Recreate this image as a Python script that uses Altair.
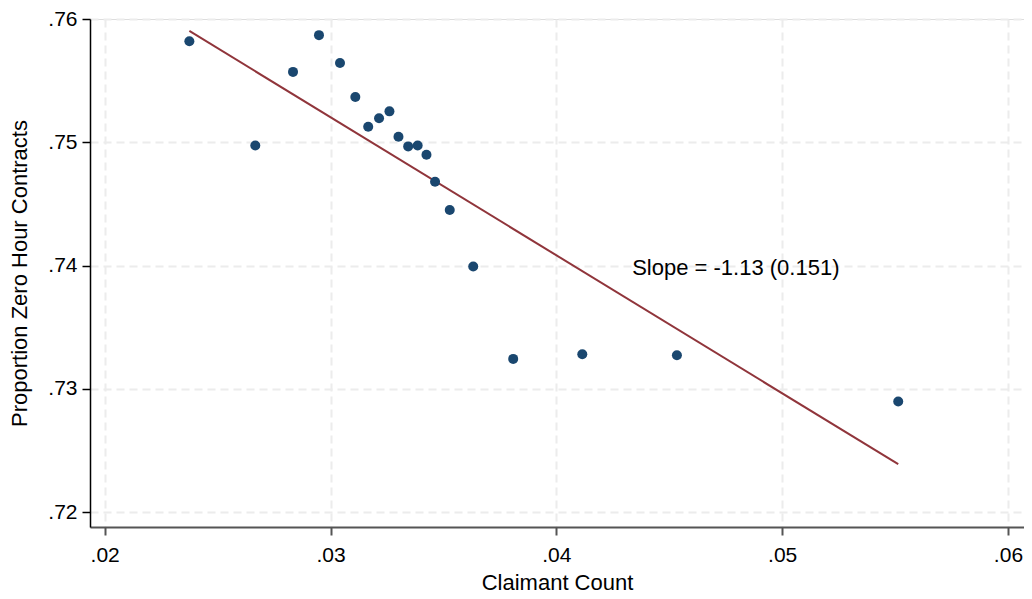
import altair as alt
import pandas as pd

# Scatter data (Claimant Count vs Proportion Zero Hour Contracts)
claimant = [0.02375, 0.02667, 0.02834, 0.02949, 0.03042, 0.03110, 0.03167, 0.03215,
            0.03261, 0.03301, 0.03344, 0.03386, 0.03425, 0.03463, 0.03528, 0.03632,
            0.03809, 0.04115, 0.04534, 0.05514]
zero_hour = [0.7582, 0.74975, 0.75571, 0.75869, 0.75643, 0.75367, 0.75126, 0.75195,
             0.75251, 0.75045, 0.74967, 0.74975, 0.74900, 0.74680, 0.74452, 0.73993,
             0.73244, 0.73282, 0.73274, 0.72898]

# Fitted line endpoints
fit_x = [0.02375, 0.05514]
fit_y = [0.75903, 0.72390]

# Annotation
label_text = ["Slope = -1.13 (0.151)"]
label_x = [0.04336]
label_y = [0.73985]

x_ticks = [0.02, 0.03, 0.04, 0.05, 0.06]
y_ticks = [0.72, 0.73, 0.74, 0.75, 0.76]

FONT = "Liberation Sans"

pts = pd.DataFrame({"x": claimant, "y": zero_hour})
fit = pd.DataFrame({"x": fit_x, "y": fit_y})
lab = pd.DataFrame({"x": label_x, "y": label_y, "t": label_text})

xscale = alt.Scale(domain=[0.01935, 0.06071], nice=False, zero=False)
yscale = alt.Scale(domain=[0.71881, 0.76], nice=False, zero=False)

xaxis = alt.Axis(
    values=x_ticks, labelExpr="replace(format(datum.value, '.2f'), /^0/, '')",
    title="Claimant Count", titleFontSize=22, titleFont=FONT, titleFontWeight="normal",
    titleColor="black", titlePadding=7,
    labelFontSize=21, labelFont=FONT, labelColor="black", labelPadding=9,
    labelFlush=False, labelOverlap=False,
    tickSize=8, tickColor="#555555", tickWidth=2,
    domainColor="#555555", domainWidth=2,
    grid=True, gridColor="#ececec", gridDash=[8, 5], gridWidth=2,
)
yaxis = alt.Axis(
    values=y_ticks, labelExpr="replace(format(datum.value, '.2f'), /^0/, '')",
    title="Proportion Zero Hour Contracts", titleFontSize=22, titleFont=FONT,
    titleFontWeight="normal", titleColor="black", titlePadding=16,
    labelFontSize=21, labelFont=FONT, labelColor="black", labelPadding=5,
    tickSize=8, tickColor="black", tickWidth=1.5,
    domainColor="black", domainWidth=1.5,
    grid=True, gridColor="#ececec", gridDash=[8, 5], gridWidth=2,
)

points = alt.Chart(pts).mark_circle(size=100, opacity=1, color="#1a476f").encode(
    x=alt.X("x:Q", scale=xscale, axis=xaxis),
    y=alt.Y("y:Q", scale=yscale, axis=yaxis),
)

line = alt.Chart(fit).mark_line(color="#90353b", strokeWidth=2).encode(
    x=alt.X("x:Q", scale=xscale),
    y=alt.Y("y:Q", scale=yscale),
)

text = alt.Chart(lab).mark_text(
    align="left", baseline="middle", fontSize=22, font=FONT, color="black"
).encode(
    x=alt.X("x:Q", scale=xscale),
    y=alt.Y("y:Q", scale=yscale),
    text="t:N",
)

chart = alt.layer(line, points, text).properties(
    width=934, height=508,
    autosize=alt.AutoSizeParams(type="none"),
    padding={"left": 82, "top": 11, "right": 0, "bottom": 70},
).configure_view(stroke=None).configure(background="white")

chart.save("out.html", embed_options={"renderer": "svg", "actions": False})
